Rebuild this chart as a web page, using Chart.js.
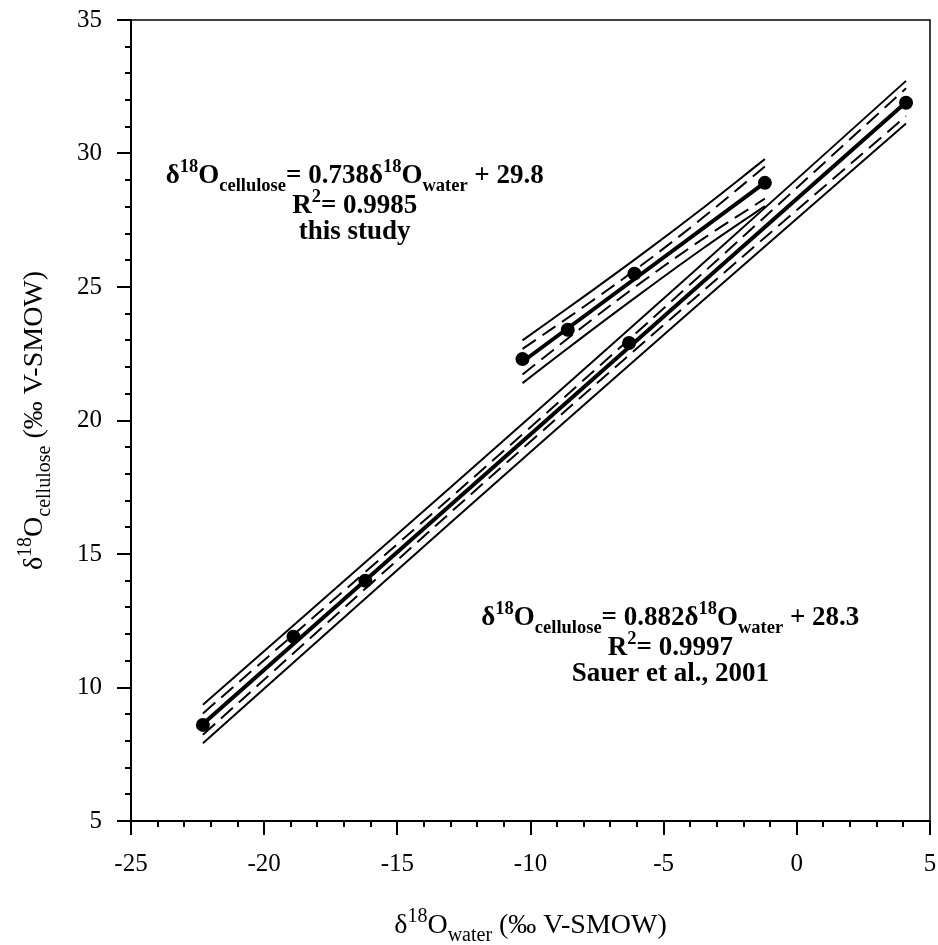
<!DOCTYPE html>
<html>
<head>
<meta charset="utf-8">
<script src="https://cdn.jsdelivr.net/npm/chart.js@4.4.0/dist/chart.umd.min.js"></script>
<style>
  html, body { margin: 0; padding: 0; background: #fff; }
</style>
</head>
<body>
<canvas id="chart" width="938" height="945"></canvas>
<script>
// axis ticks
var xTicks = [-25, -20, -15, -10, -5, 0, 5];
var yTicks = [5, 10, 15, 20, 25, 30, 35];

// Sauer et al., 2001 points
var sauerX = [-22.3, -18.9, -16.2, -6.3, 4.1];
var sauerY = [8.6, 11.9, 14.0, 22.9, 31.9];

// this study points
var studyX = [-10.3, -8.6, -6.1, -1.2];
var studyY = [22.3, 23.4, 25.5, 28.9];

// fitted lines (ends)
var sauerFitX = [-22.3, 4.1];
var sauerFitY = [8.63, 31.92];
var studyFitX = [-10.3, -1.2];
var studyFitY = [22.20, 28.91];

// band curves, Sauer
var sauerBandX = [-22.3, -16, -10, -4, 4.1];
var sauerPiHi = [9.35, 14.87, 20.14, 25.46, 32.72];
var sauerPiLo = [7.91, 13.51, 18.82, 24.08, 31.12];
var sauerCiHi = [9.03, 14.50, 19.75, 25.10, 32.44];
var sauerCiLo = [8.23, 13.88, 19.21, 24.44, 31.40];

// band curves, this study
var studyBandX = [-10.3, -8, -5.8, -3.5, -1.2];
var studyPiHi = [23.00, 24.64, 26.24, 27.98, 29.79];
var studyPiLo = [21.40, 23.16, 24.80, 26.46, 28.03];
var studyCiHi = [22.68, 24.26, 25.84, 27.62, 29.51];
var studyCiLo = [21.72, 23.54, 25.20, 26.82, 28.31];

var FAMILY = '"Liberation Serif", "Times New Roman", serif';

function pts(xs, ys) {
  return xs.map(function (x, i) { return {x: x, y: ys[i]}; });
}

function band(xs, ys, dashed) {
  return {
    data: pts(xs, ys),
    showLine: true,
    borderColor: '#000',
    borderWidth: 2,
    borderDash: dashed ? [16, 8] : [],
    pointRadius: 0,
    tension: 0.4,
    fill: false
  };
}

function fit(xs, ys) {
  return {
    data: pts(xs, ys),
    showLine: true,
    borderColor: '#000',
    borderWidth: 4,
    pointRadius: 0,
    fill: false
  };
}

function dots(xs, ys) {
  return {
    data: pts(xs, ys),
    showLine: false,
    pointRadius: 7,
    pointBackgroundColor: '#000',
    pointBorderColor: '#000',
    pointBorderWidth: 0
  };
}

// text with superscripts / subscripts, centred on cx
function drawRich(ctx, runs, cx, baseY, size, small, weight) {
  var font = function (r) {
    return weight + ' ' + ((r.sup || r.sub) ? small : size) + 'px ' + FAMILY;
  };
  var total = 0;
  runs.forEach(function (r) {
    ctx.font = font(r);
    r.w = ctx.measureText(r.t).width;
    total += r.w;
  });
  var x = cx - total / 2;
  ctx.textAlign = 'left';
  ctx.textBaseline = 'alphabetic';
  ctx.fillStyle = '#000';
  runs.forEach(function (r) {
    ctx.font = font(r);
    var dy = r.sup ? -size * 0.4 : (r.sub ? size * 0.3 : 0);
    ctx.fillText(r.t, x, baseY + dy);
    x += r.w;
  });
}

var extras = {
  id: 'extras',
  afterDraw: function (chart) {
    var ctx = chart.ctx, a = chart.chartArea;
    var xs = chart.scales.x, ys = chart.scales.y;
    ctx.save();

    // top and right frame
    ctx.strokeStyle = '#000';
    ctx.lineWidth = 1.5;
    ctx.beginPath();
    ctx.moveTo(a.left, a.top);
    ctx.lineTo(a.right, a.top);
    ctx.lineTo(a.right, a.bottom);
    ctx.stroke();

    // minor ticks
    ctx.lineWidth = 2;
    ctx.beginPath();
    for (var v = -25; v <= 5; v++) {
      if (v % 5 === 0) continue;
      var px = Math.round(xs.getPixelForValue(v));
      ctx.moveTo(px, a.bottom);
      ctx.lineTo(px, a.bottom + 6);
    }
    for (var w = 5; w <= 35; w++) {
      if (w % 5 === 0) continue;
      var py = Math.round(ys.getPixelForValue(w));
      ctx.moveTo(a.left, py);
      ctx.lineTo(a.left - 6, py);
    }
    ctx.stroke();

    // axis titles
    drawRich(ctx, [
      {t: 'δ'}, {t: '18', sup: true}, {t: 'O'}, {t: 'water', sub: true},
      {t: ' (‰ V-SMOW)'}
    ], (a.left + a.right) / 2, 933, 28, 20, 'normal');

    ctx.save();
    ctx.translate(42, (a.top + a.bottom) / 2);
    ctx.rotate(-Math.PI / 2);
    drawRich(ctx, [
      {t: 'δ'}, {t: '18', sup: true}, {t: 'O'}, {t: 'cellulose', sub: true},
      {t: ' (‰ V-SMOW)'}
    ], 0, 0, 28, 20, 'normal');
    ctx.restore();

    // equations
    var b1x = xs.getPixelForValue(-16.6), b1y = ys.getPixelForValue(28.9);
    drawRich(ctx, [
      {t: 'δ'}, {t: '18', sup: true}, {t: 'O'}, {t: 'cellulose', sub: true},
      {t: '= 0.738δ'}, {t: '18', sup: true}, {t: 'O'}, {t: 'water', sub: true},
      {t: ' + 29.8'}
    ], b1x, b1y, 27, 18.5, 'bold');
    drawRich(ctx, [{t: 'R'}, {t: '2', sup: true}, {t: '= 0.9985'}], b1x, b1y + 30, 27, 18.5, 'bold');
    drawRich(ctx, [{t: 'this study'}], b1x, b1y + 56, 27, 18.5, 'bold');

    var b2x = xs.getPixelForValue(-4.75), b2y = ys.getPixelForValue(12.34);
    drawRich(ctx, [
      {t: 'δ'}, {t: '18', sup: true}, {t: 'O'}, {t: 'cellulose', sub: true},
      {t: '= 0.882δ'}, {t: '18', sup: true}, {t: 'O'}, {t: 'water', sub: true},
      {t: ' + 28.3'}
    ], b2x, b2y, 27, 18.5, 'bold');
    drawRich(ctx, [{t: 'R'}, {t: '2', sup: true}, {t: '= 0.9997'}], b2x, b2y + 30, 27, 18.5, 'bold');
    drawRich(ctx, [{t: 'Sauer et al., 2001'}], b2x, b2y + 56, 27, 18.5, 'bold');

    ctx.restore();
  }
};

function ticksFrom(list) {
  return function (scale) {
    scale.ticks = list.map(function (v) { return {value: v}; });
  };
}

new Chart(document.getElementById('chart'), {
  type: 'scatter',
  data: {
    datasets: [
      band(sauerBandX, sauerPiHi, false),
      band(sauerBandX, sauerPiLo, false),
      band(sauerBandX, sauerCiHi, true),
      band(sauerBandX, sauerCiLo, true),
      band(studyBandX, studyPiHi, false),
      band(studyBandX, studyPiLo, false),
      band(studyBandX, studyCiHi, true),
      band(studyBandX, studyCiLo, true),
      fit(sauerFitX, sauerFitY),
      fit(studyFitX, studyFitY),
      dots(sauerX, sauerY),
      dots(studyX, studyY)
    ]
  },
  options: {
    responsive: false,
    animation: false,
    devicePixelRatio: 1,
    layout: {padding: {left: 0, right: 8, top: 20, bottom: 0}},
    plugins: {legend: {display: false}, tooltip: {enabled: false}},
    scales: {
      x: {
        type: 'linear',
        min: -25,
        max: 5,
        afterBuildTicks: ticksFrom(xTicks),
        afterFit: function (s) {
          s.height = 124;
          s.paddingLeft = 0;
          s.paddingRight = 0;
        },
        grid: {drawOnChartArea: false, drawTicks: true, tickLength: 14, color: '#000', lineWidth: 2},
        border: {display: true, color: '#000', width: 2},
        ticks: {color: '#000', padding: 14, maxRotation: 0, font: {family: FAMILY, size: 25}}
      },
      y: {
        type: 'linear',
        min: 5,
        max: 35,
        afterBuildTicks: ticksFrom(yTicks),
        afterFit: function (s) {
          s.width = 131;
          s.paddingTop = 0;
          s.paddingBottom = 0;
        },
        grid: {drawOnChartArea: false, drawTicks: true, tickLength: 14, color: '#000', lineWidth: 2},
        border: {display: true, color: '#000', width: 2},
        ticks: {color: '#000', padding: 15, font: {family: FAMILY, size: 25}}
      }
    }
  },
  plugins: [extras]
});
</script>
</body>
</html>
